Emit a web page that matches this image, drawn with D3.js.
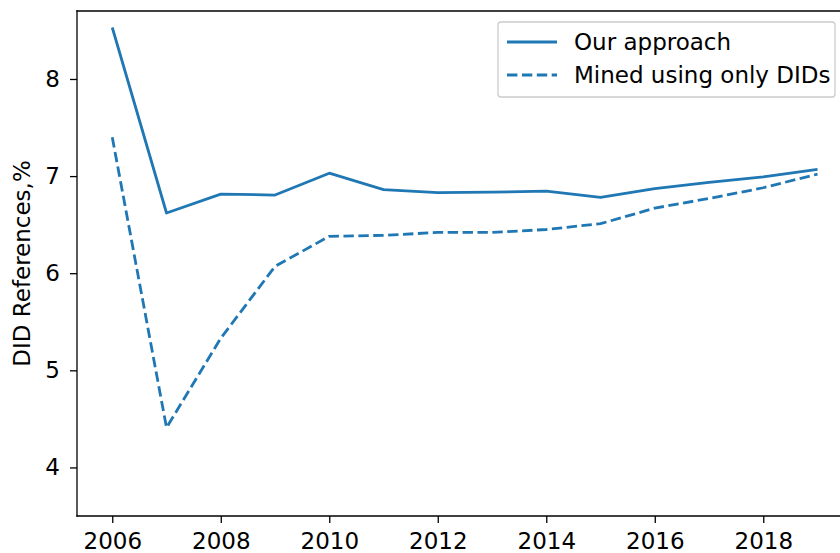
<!DOCTYPE html>
<html>
<head>
<meta charset="utf-8">
<script src="https://cdn.jsdelivr.net/npm/d3@7"></script>
<style>
  html, body { margin: 0; padding: 0; background: #fff; }
  svg { display: block; }
  text { font-family: "DejaVu Sans", sans-serif; fill: #000; }
</style>
</head>
<body>
<svg id="chart" width="840" height="553"></svg>
<script>
// ---- data ----
const years = [2006, 2007, 2008, 2009, 2010, 2011, 2012, 2013, 2014, 2015, 2016, 2017, 2018, 2019];
const ourApproach = [8.53, 6.62, 6.815, 6.805, 7.03, 6.86, 6.83, 6.835, 6.845, 6.78, 6.87, 6.935, 6.993, 7.07];
const minedDIDs = [7.40, 4.41, 5.33, 6.07, 6.38, 6.39, 6.42, 6.42, 6.45, 6.51, 6.67, 6.77, 6.88, 7.02];
const seriesNames = ["Our approach", "Mined using only DIDs"];
const xTicks = [2006, 2008, 2010, 2012, 2014, 2016, 2018];
const yTicks = [4, 5, 6, 7, 8];
const yLabel = "DID References,%";

// ---- layout ----
const svg = d3.select("#chart");
const mLeft = 77, mTop = 11, mBottom = 516;
const x = d3.scaleLinear().domain([2005.35, 2019.65]).range([mLeft, mLeft + (2019.65 - 2005.35) * 54.25]);
const y = d3.scaleLinear().domain([3.5, 8.7]).range([mBottom, mTop]);
const color = "#1f77b4";
const fontSize = 23;
const lw = 2.8;
const dash = "10.4,4.5";

const plotRight = x(2019.65);

// lines
const line = d3.line().x((d, i) => x(years[i])).y(d => y(d));
svg.append("path").datum(ourApproach)
  .attr("d", line).attr("fill", "none").attr("stroke", color)
  .attr("stroke-width", lw).attr("stroke-linejoin", "round").attr("stroke-linecap", "butt");
svg.append("path").datum(minedDIDs)
  .attr("d", line).attr("fill", "none").attr("stroke", color)
  .attr("stroke-width", lw).attr("stroke-dasharray", dash).attr("stroke-linejoin", "round");

// axes
const xAxis = d3.axisBottom(x).tickValues(xTicks).tickFormat(d3.format("d")).tickSize(7).tickPadding(10);
const yAxis = d3.axisLeft(y).tickValues(yTicks).tickFormat(d3.format("d")).tickSize(7).tickPadding(10);

const gx = svg.append("g").attr("transform", `translate(0,${mBottom})`).call(xAxis);
const gy = svg.append("g").attr("transform", `translate(${mLeft},0)`).call(yAxis);
[gx, gy].forEach(g => {
  g.select(".domain").remove();
  g.selectAll(".tick line").attr("stroke", "#000").attr("stroke-width", 1.3);
  g.selectAll(".tick text").attr("font-size", fontSize).attr("font-family", "DejaVu Sans").attr("fill", "#000");
});

// spines
svg.append("line").attr("x1", mLeft).attr("x2", mLeft).attr("y1", mTop).attr("y2", mBottom)
  .attr("stroke", "#000").attr("stroke-width", 1.3).attr("stroke-linecap", "square");
svg.append("line").attr("x1", mLeft).attr("x2", plotRight).attr("y1", mBottom).attr("y2", mBottom)
  .attr("stroke", "#000").attr("stroke-width", 1.3).attr("stroke-linecap", "square");
svg.append("line").attr("x1", mLeft).attr("x2", plotRight).attr("y1", mTop).attr("y2", mTop)
  .attr("stroke", "#000").attr("stroke-width", 1.3).attr("stroke-linecap", "square");
svg.append("line").attr("x1", plotRight).attr("x2", plotRight).attr("y1", mTop).attr("y2", mBottom)
  .attr("stroke", "#000").attr("stroke-width", 1.3);

// y label
svg.append("text")
  .attr("transform", `translate(30,${(mTop + mBottom) / 2}) rotate(-90)`)
  .attr("text-anchor", "middle").attr("font-size", fontSize)
  .text(yLabel);

// legend
const lg = svg.append("g");
lg.append("rect").attr("x", 498).attr("y", 22).attr("width", 337).attr("height", 75)
  .attr("rx", 3).attr("fill", "#fff").attr("fill-opacity", 0.8)
  .attr("stroke", "#cccccc").attr("stroke-width", 1.3);
const rows = [42, 75];
seriesNames.forEach((name, i) => {
  lg.append("line").attr("x1", 507).attr("x2", 557).attr("y1", rows[i]).attr("y2", rows[i])
    .attr("stroke", color).attr("stroke-width", lw)
    .attr("stroke-dasharray", i === 1 ? dash : null);
  lg.append("text").attr("x", 574).attr("y", rows[i]).attr("dy", "0.35em")
    .attr("font-size", fontSize).text(name);
});
</script>
</body>
</html>
